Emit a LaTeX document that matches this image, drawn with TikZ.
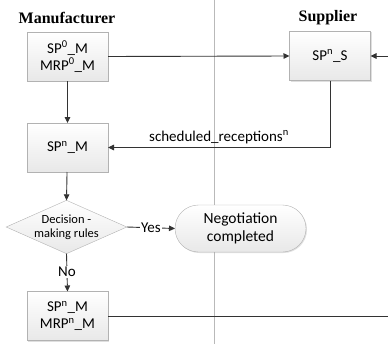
\documentclass[tikz,border=0pt]{standalone}
\usepackage{fontspec}
\setmainfont{Carlito}
\newfontfamily\titlefont{Liberation Serif}
\usetikzlibrary{shapes.geometric,shapes.misc,arrows.meta,shadows}
\begin{document}
\begin{tikzpicture}[x=1pt,y=-1pt,
  every node/.style={inner sep=0pt, outer sep=0pt},
  proc/.style={draw=gray!60, top color=white, bottom color=gray!18, minimum width=81pt, minimum height=49pt, align=center, font=\fontsize{15}{17}\selectfont, drop shadow={opacity=0.25, shadow xshift=1pt, shadow yshift=-1pt}},
  decide/.style={diamond, aspect=2.26, draw=gray!60, top color=white, bottom color=gray!18, minimum width=113pt, minimum height=50pt, align=center, font=\fontsize{12.5}{14}\selectfont},
  term/.style={rounded rectangle, draw=gray!60, top color=white, bottom color=gray!18, minimum width=131pt, minimum height=47pt, align=center, font=\fontsize{15.5}{18}\selectfont, drop shadow={opacity=0.25, shadow xshift=1pt, shadow yshift=-1pt}},
  title/.style={font=\titlefont\bfseries\fontsize{16}{18}\selectfont},
  conn/.style={draw=black!80, line width=0.9pt},
  arr/.style={conn, -{Triangle[length=6pt,width=5.5pt]}},
  lab/.style={font=\fontsize{15}{17}\selectfont}
]
\useasboundingbox (0,0) rectangle (388,345);
\draw[gray!55, line width=0.7pt] (214,0) -- (214,344);
\node[title] (tm) at (67,18) {Manufacturer};
\node[title] (ts) at (328,18) {Supplier};
\node[proc] (b1) at (67.5,56.5) {SP\textsuperscript{0}\_M\\MRP\textsuperscript{0}\_M};
\node[proc] (s1) at (330,56) {SP\textsuperscript{n}\_S};
\node[proc] (b2) at (67.5,147.5) {SP\textsuperscript{n}\_M};
\node[decide] (d) at (66.5,227) {Decision -\\making rules};
\node[term] (neg) at (240.5,228.5) {Negotiation\\completed};
\node[proc] (b4) at (67.5,316) {SP\textsuperscript{n}\_M\\MRP\textsuperscript{n}\_M};
\coordinate (rin) at (388,56);
\coordinate (rout) at (388,316);
\draw[arr] (b1) -- (b2);
\draw[arr] (b1.east) -- (s1.west);
\draw[arr] (rin) -- (s1.east);
\draw[arr] (s1.south) |- node[lab, pos=0.75, above=4pt] {scheduled\_receptions\textsuperscript{n}} (b2.east);
\draw[arr] (b2) -- (d.north);
\draw[arr] (d.east) -- node[lab, fill=white, inner sep=1pt] {Yes} (neg.west);
\draw[arr] (d.south) -- node[lab, fill=white, inner sep=1pt, pos=0.48] {No} (b4.north);
\draw[conn] (b4.east) -- (rout);
\end{tikzpicture}
\end{document}
